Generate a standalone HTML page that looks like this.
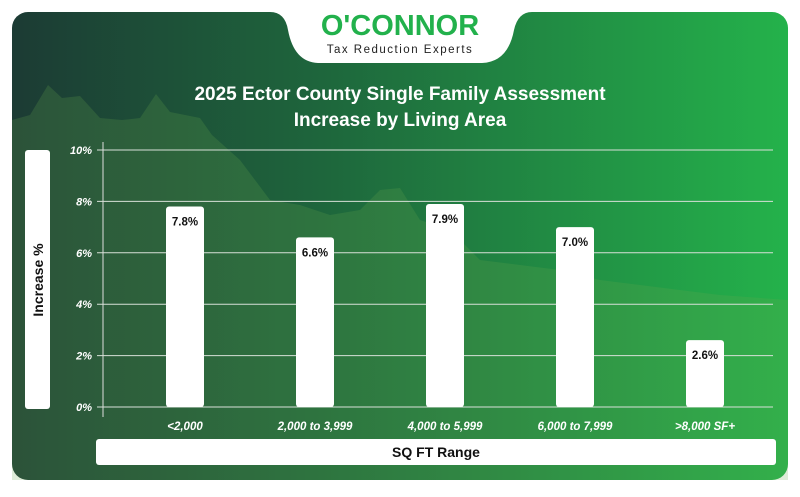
<!DOCTYPE html>
<html><head><meta charset="utf-8"><style>
body{margin:0;width:800px;height:492px;background:#fff;overflow:hidden;font-family:"Liberation Sans",sans-serif}
</style></head><body>
<svg width="800" height="492" viewBox="0 0 800 492">
<defs>
<linearGradient id="bg" x1="0" y1="0" x2="1" y2="0">
<stop offset="0" stop-color="#1c3b34"/><stop offset="0.4" stop-color="#1e663c"/><stop offset="1" stop-color="#24b24b"/>
</linearGradient>
</defs>
<rect x="12" y="12" width="776" height="468" rx="16" fill="url(#bg)"/>
<path d="M12,120 L30,115 L48,85 L62,98 L80,96 L100,118 L122,120 L140,118 L156,94 L170,112 L200,118 L212,135 L240,160 L270,200 L300,205 L330,215 L360,210 L380,190 L400,188 L420,220 L450,230 L480,260 L520,265 L560,270 L600,280 L640,285 L680,290 L720,295 L788,300 L788,480 L12,480 Z" fill="#6aa84f" opacity="0.22"/>
<path d="M270,12 Q285,12 288,30 Q294,62 318,63 L482,63 Q508,62 514,30 Q518,12 532,12 Z" fill="#fff"/>
<text x="400" y="35" text-anchor="middle" font-size="29" font-weight="bold" fill="#22b14c">O'CONNOR</text>
<text x="400" y="53" text-anchor="middle" font-size="11.5" letter-spacing="1.5" fill="#222">Tax Reduction Experts</text>
<text x="400" y="100" text-anchor="middle" font-size="19" font-weight="bold" fill="#fff">2025 Ector County Single Family Assessment</text>
<text x="400" y="126" text-anchor="middle" font-size="19" font-weight="bold" fill="#fff">Increase by Living Area</text>
<rect x="25" y="150" width="25" height="259" rx="3" fill="#fff"/>
<text transform="translate(43,280) rotate(-90)" text-anchor="middle" font-size="14" font-weight="bold" fill="#111">Increase %</text>
<rect x="96" y="439" width="680" height="26" rx="3" fill="#fff"/>
<text x="436" y="457" text-anchor="middle" font-size="14" font-weight="bold" fill="#111">SQ FT Range</text>
<line x1="103" y1="142" x2="103" y2="417" stroke="#ddd" stroke-width="1"/>
<g id="grid"></g><g id="bars"></g>
</svg>
<script>
const categories=["<2,000","2,000 to 3,999","4,000 to 5,999","6,000 to 7,999",">8,000 SF+"];
const values=[7.8,6.6,7.9,7.0,2.6];
const valueLabels=["7.8%","6.6%","7.9%","7.0%","2.6%"];
const ticks=[0,2,4,6,8,10];
const tickLabels=["0%","2%","4%","6%","8%","10%"];
const NS="http://www.w3.org/2000/svg";
function y(v){return 407-v*25.7;}
function x(i){return 185+i*130;}
const grid=document.getElementById('grid'),bars=document.getElementById('bars');
function mk(t,a,p){const e=document.createElementNS(NS,t);for(const k in a)e.setAttribute(k,a[k]);p.appendChild(e);return e;}
ticks.forEach((t,i)=>{
 const l=mk('line',{x1:97,x2:773,y1:y(t),y2:y(t),stroke:'#d8e0d8','stroke-width':1},grid);
 
 
 const tx=mk('text',{x:92,y:y(t)+4,'text-anchor':'end','font-size':11,'font-weight':'bold','font-style':'italic',fill:'#fff'},grid);
 tx.textContent=tickLabels[i];
 
 
});
categories.forEach((c,i)=>{
 const b=mk('rect',{x:x(i)-19,y:y(values[i]),width:38,height:407-y(values[i]),rx:3,fill:'#fff'},bars);
 
 
 const v=mk('text',{x:x(i),y:y(values[i])+19,'text-anchor':'middle','font-size':11.5,'font-weight':'bold',fill:'#111'},bars);
 v.textContent=valueLabels[i];
 
 
 const cl=mk('text',{x:x(i),y:430,'text-anchor':'middle','font-size':11.5,'font-weight':'bold','font-style':'italic',fill:'#fff'},bars);
 cl.textContent=c;
 
 
});
</script>
</body></html>
